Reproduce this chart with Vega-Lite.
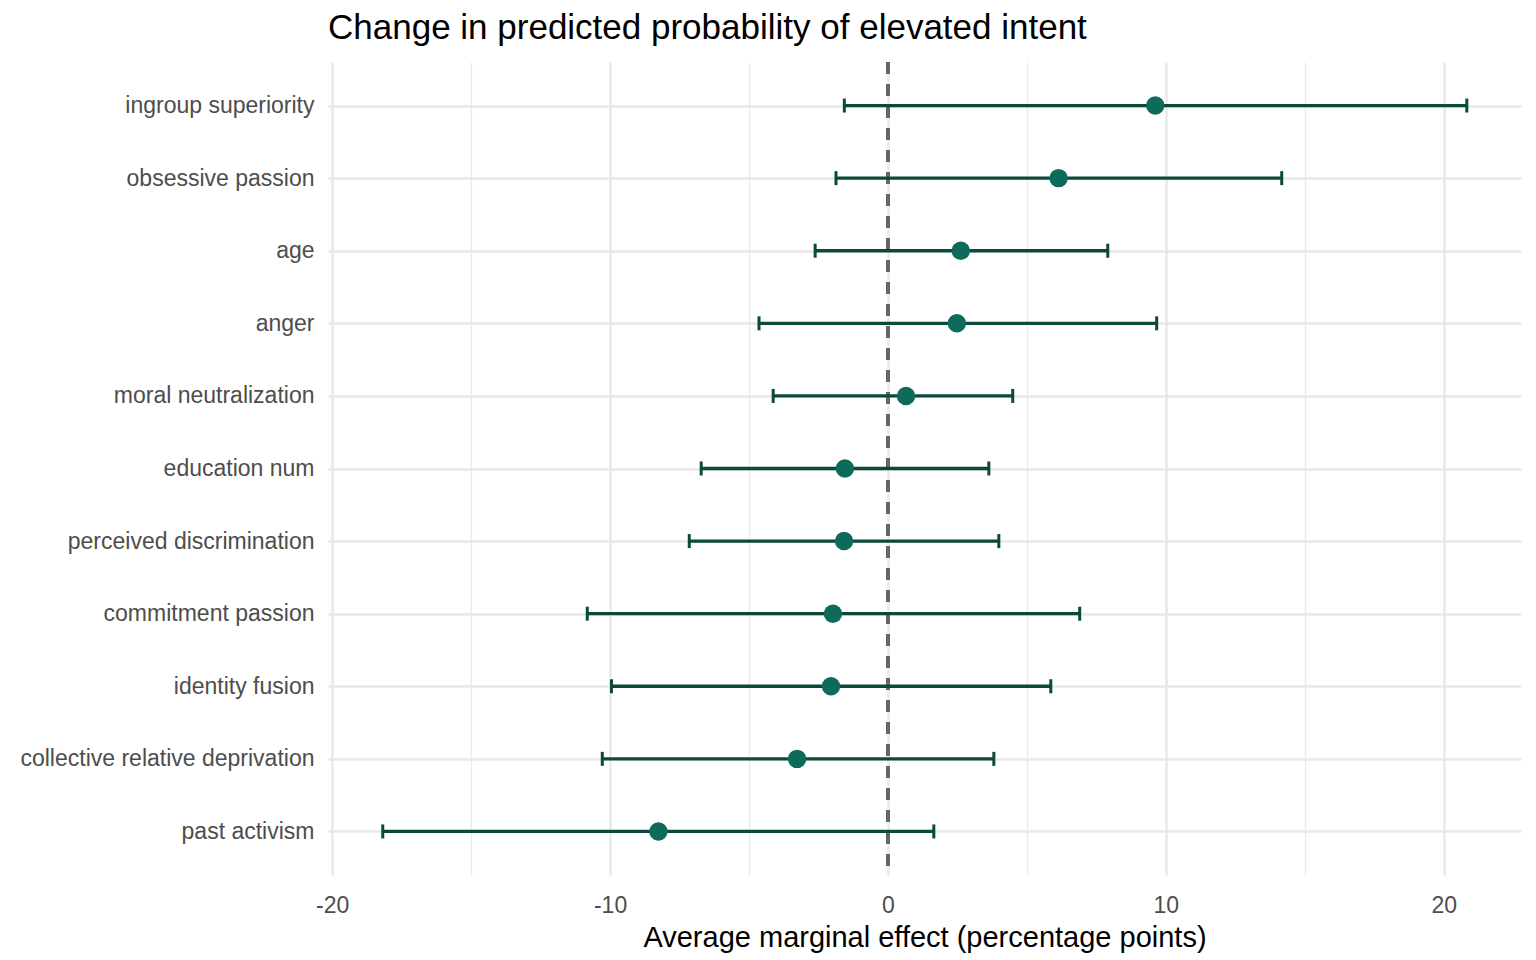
{
  "$schema": "https://vega.github.io/schema/vega-lite/v6.json",
  "width": 1193,
  "height": 813,
  "autosize": {"type": "none"},
  "padding": {"left": 328, "top": 62, "right": 15, "bottom": 85},
  "background": "white",
  "config": {
    "view": {"stroke": null},
    "font": "Liberation Sans"
  },
  "title": {
    "text": "Change in predicted probability of elevated intent",
    "anchor": "start",
    "frame": "group",
    "fontSize": 35,
    "font": "Liberation Sans",
    "fontWeight": "normal",
    "color": "#000000",
    "baseline": "alphabetic",
    "offset": 22,
    "dy": 35
  },
  "data": {
    "values": [
      {"term": "ingroup superiority", "ame": 9.62, "lo": -1.57, "hi": 20.83},
      {"term": "obsessive passion", "ame": 6.14, "lo": -1.87, "hi": 14.17},
      {"term": "age", "ame": 2.62, "lo": -2.62, "hi": 7.91},
      {"term": "anger", "ame": 2.48, "lo": -4.64, "hi": 9.67},
      {"term": "moral neutralization", "ame": 0.65, "lo": -4.13, "hi": 4.49},
      {"term": "education num", "ame": -1.55, "lo": -6.72, "hi": 3.63},
      {"term": "perceived discrimination", "ame": -1.58, "lo": -7.15, "hi": 3.99},
      {"term": "commitment passion", "ame": -1.98, "lo": -10.82, "hi": 6.90},
      {"term": "identity fusion", "ame": -2.05, "lo": -9.95, "hi": 5.86},
      {"term": "collective relative deprivation", "ame": -3.27, "lo": -10.28, "hi": 3.81},
      {"term": "past activism", "ame": -8.26, "lo": -18.18, "hi": 1.65}
    ]
  },
  "encoding": {
    "y": {
      "field": "term",
      "type": "nominal",
      "scale": {
        "type": "point",
        "padding": 0.6,
        "domain": ["ingroup superiority", "obsessive passion", "age", "anger", "moral neutralization", "education num", "perceived discrimination", "commitment passion", "identity fusion", "collective relative deprivation", "past activism"]
      },
      "axis": {
        "title": null,
        "ticks": false,
        "domain": false,
        "grid": true,
        "gridColor": "#e8e8e8",
        "gridWidth": 2.4,
        "labelFontSize": 23,
        "labelFont": "Liberation Sans",
        "labelColor": "#4d4d4d",
        "labelPadding": 14,
        "labelLimit": 0
      }
    }
  },
  "layer": [
    {
      "mark": {"type": "rule", "stroke": "#666666", "strokeWidth": 2.7, "strokeDash": [12, 10]},
      "encoding": {
        "x": {"datum": 0, "type": "quantitative", "axis": null},
        "y": null
      }
    },
    {
      "mark": {"type": "rule", "stroke": "#0b4a3b", "strokeWidth": 3.3},
      "encoding": {
        "x": {
          "field": "lo",
          "type": "quantitative",
          "scale": {"domain": [-20.15, 22.78], "nice": false, "zero": false},
          "axis": {
            "values": [-15, -5, 5, 15],
            "labels": false,
            "ticks": false,
            "domain": false,
            "grid": true,
            "gridColor": "#ebebeb",
            "gridWidth": 1.3,
            "title": null,
            "orient": "bottom"
          }
        },
        "x2": {"field": "hi"}
      }
    },
    {
      "mark": {"type": "tick", "color": "#0b4a3b", "opacity": 1, "size": 14, "thickness": 3, "orient": "vertical"},
      "encoding": {
        "x": {"field": "lo", "type": "quantitative", "axis": null}
      }
    },
    {
      "mark": {"type": "tick", "color": "#0b4a3b", "opacity": 1, "size": 14, "thickness": 3, "orient": "vertical"},
      "encoding": {
        "x": {"field": "hi", "type": "quantitative", "axis": null}
      }
    },
    {
      "mark": {"type": "point", "filled": true, "shape": "circle", "size": 340, "color": "#0f6b59", "opacity": 1},
      "encoding": {
        "x": {
          "field": "ame",
          "type": "quantitative",
          "axis": {
            "values": [-20, -10, 0, 10, 20],
            "labelExpr": "'' + datum.value",
            "ticks": false,
            "domain": false,
            "grid": true,
            "gridColor": "#e8e8e8",
            "gridWidth": 2.4,
            "labelFontSize": 23,
            "labelFont": "Liberation Sans",
            "labelColor": "#4d4d4d",
            "labelPadding": 19,
            "title": "Average marginal effect (percentage points)",
            "titleFontSize": 29,
            "titleFont": "Liberation Sans",
            "titleFontWeight": "normal",
            "titleColor": "#000000",
            "titleBaseline": "alphabetic",
            "titleY": 71,
            "orient": "bottom"
          }
        }
      }
    }
  ],
  "resolve": {"axis": {"x": "independent"}}
}
